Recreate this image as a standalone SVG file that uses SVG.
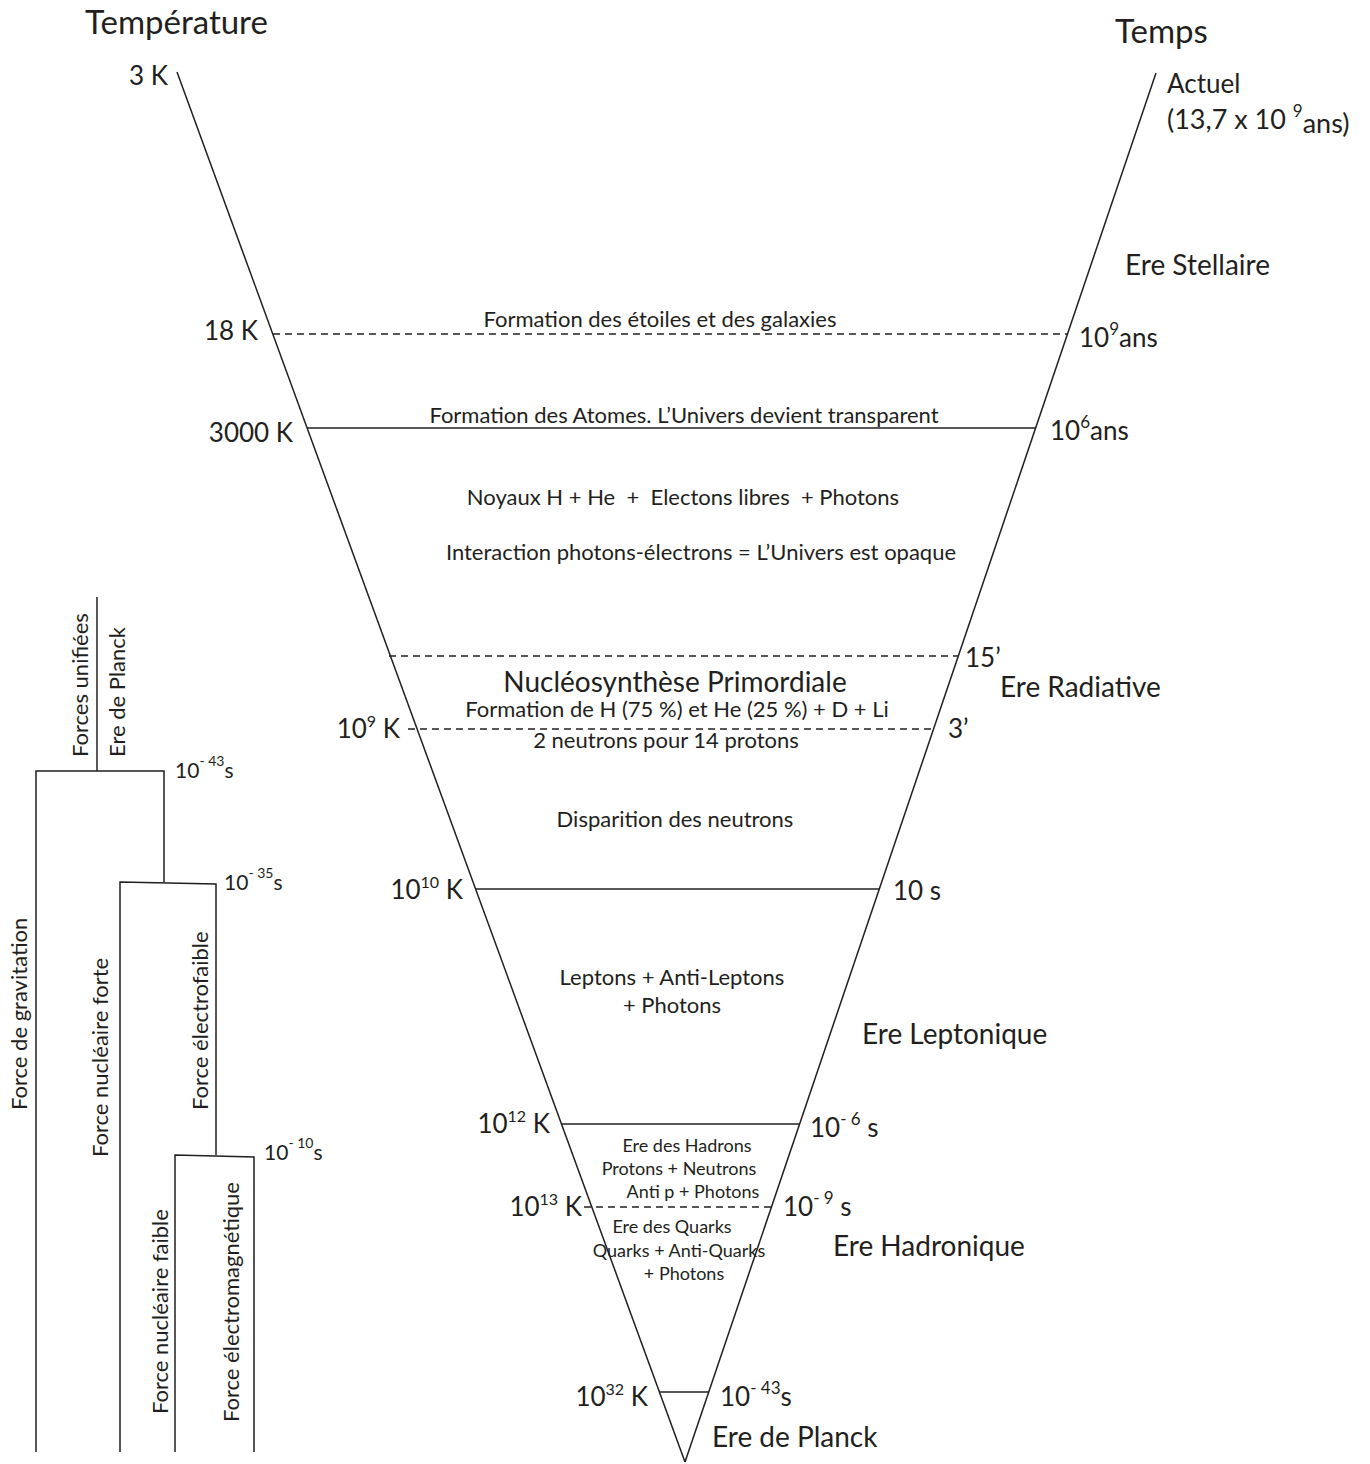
<svg xmlns="http://www.w3.org/2000/svg" width="1370" height="1464" viewBox="0 0 1370 1464">
<style>
text{font-family:Lato,"Open Sans","Liberation Sans",sans-serif;fill:#231f20}
.ln{stroke:#231f20;stroke-width:1.5;fill:none}
.ds{stroke:#231f20;stroke-width:1.5;fill:none;stroke-dasharray:7 5}
.t31{font-size:33px}
.t28{font-size:28px}
.t26{font-size:26px}
.t22{font-size:22px}
.t18{font-size:18px}
.tr{font-size:22px}
.tt{font-size:21px}
.e{text-anchor:end}
.m{text-anchor:middle}
</style>
<rect width="1370" height="1464" fill="#fff"/>

<g id="connectors">
  <line id="axe-temperature" class="ln" x1="177" y1="72" x2="685" y2="1462"/>
  <line id="axe-temps" class="ln" x1="1156" y1="73" x2="685" y2="1462"/>
  <line class="ds" x1="273" y1="334" x2="1067" y2="334"/>
  <line class="ln" x1="307" y1="428" x2="1036" y2="428"/>
  <line class="ds" x1="389" y1="656" x2="958" y2="656"/>
  <line class="ds" x1="408" y1="729" x2="934" y2="729"/>
  <line class="ln" x1="476" y1="889" x2="879" y2="889"/>
  <line class="ln" x1="562" y1="1124" x2="800" y2="1124"/>
  <line class="ds" x1="584" y1="1207" x2="776" y2="1207"/>
  <line class="ln" x1="659" y1="1392" x2="709" y2="1392"/>
  <!-- arbre des forces -->
  <polyline class="ln" points="97,597 97,771"/>
  <polyline class="ln" points="36,1452 36,771 164,771 164,882"/>
  <polyline class="ln" points="120,1452 120,882 216,884 216,1155"/>
  <polyline class="ln" points="175,1452 175,1155 254,1157 254,1452"/>
</g>

<g id="titres">
  <text class="t31" x="85" y="34">Température</text>
  <text class="t31" x="1115" y="43">Temps</text>
</g>

<g id="temperatures">
  <text class="t26 e" x="168" y="85">3 K</text>
  <text class="t26 e" x="258" y="340">18 K</text>
  <text class="t26 e" x="293" y="442">3000 K</text>
  <text class="t26 e" x="400" y="738">10<tspan font-size="16" dy="-11">9</tspan><tspan dy="11"> K</tspan></text>
  <text class="t26 e" x="463" y="899">10<tspan font-size="16" dy="-11">10</tspan><tspan dy="11"> K</tspan></text>
  <text class="t26 e" x="550" y="1133">10<tspan font-size="16" dy="-11">12</tspan><tspan dy="11"> K</tspan></text>
  <text class="t26 e" x="582" y="1216">10<tspan font-size="16" dy="-11">13</tspan><tspan dy="11"> K</tspan></text>
  <text class="t26 e" x="648" y="1406">10<tspan font-size="16" dy="-11">32</tspan><tspan dy="11"> K</tspan></text>
</g>

<g id="temps">
  <text class="t26" x="1167" y="93" font-size="27">Actuel</text>
  <text class="t26" x="1167" y="129" style="font-size:27px">(13,7 x 10 <tspan font-size="17" dy="-12">9</tspan><tspan dy="16">ans)</tspan></text>
  <text class="t26" x="1079" y="347">10<tspan font-size="17" dy="-12">9</tspan><tspan dy="12">ans</tspan></text>
  <text class="t26" x="1050" y="440">10<tspan font-size="17" dy="-12">6</tspan><tspan dy="12">ans</tspan></text>
  <text class="t26" x="965" y="667">15’</text>
  <text class="t26" x="948" y="738">3’</text>
  <text class="t26" x="893" y="900">10 s</text>
  <text class="t26" x="810" y="1137">10<tspan font-size="17" dy="-12">- 6</tspan><tspan dy="12">  s</tspan></text>
  <text class="t26" x="783" y="1216">10<tspan font-size="17" dy="-12">- 9</tspan><tspan dy="12">  s</tspan></text>
  <text class="t26" x="720" y="1406">10<tspan font-size="17" dy="-12">- 43</tspan><tspan dy="12">s</tspan></text>
</g>

<g id="eres">
  <text class="t28" x="1125" y="275">Ere Stellaire</text>
  <text class="t28" x="1000" y="697">Ere Radiative</text>
  <text class="t28" x="862" y="1044">Ere Leptonique</text>
  <text class="t28" x="833" y="1256">Ere Hadronique</text>
  <text class="t28" x="712" y="1447">Ere de Planck</text>
</g>

<g id="evenements">
  <text class="t22 m" x="660" y="327">Formation des étoiles et des galaxies</text>
  <text class="t22 m" x="684" y="423">Formation des Atomes. L’Univers devient transparent</text>
  <text class="t22 m" x="683" y="505" xml:space="preserve">Noyaux H + He  +  Electons libres  + Photons</text>
  <text class="t22 m" x="701" y="560">Interaction photons-électrons = L’Univers est opaque</text>
  <text class="t28 m" x="675" y="692">Nucléosynthèse Primordiale</text>
  <text class="t22 m" x="677" y="717">Formation de H (75 %) et He (25 %) + D + Li</text>
  <text class="t22 m" x="666" y="748">2 neutrons pour 14 protons</text>
  <text class="t22 m" x="675" y="827">Disparition des neutrons</text>
  <text class="t22 m" x="672" y="985">Leptons + Anti-Leptons</text>
  <text class="t22 m" x="672" y="1013">+ Photons</text>
  <text class="t18 m" x="687" y="1152">Ere des Hadrons</text>
  <text class="t18 m" x="679" y="1175">Protons + Neutrons</text>
  <text class="t18 m" x="693" y="1198">Anti p + Photons</text>
  <text class="t18 m" x="672" y="1233">Ere des Quarks</text>
  <text class="t18 m" x="679" y="1257">Quarks + Anti-Quarks</text>
  <text class="t18 m" x="684" y="1280">+ Photons</text>
</g>

<g id="forces">
  <text class="tr" transform="translate(88,757) rotate(-90)">Forces unifiées</text>
  <text class="tr" transform="translate(125,757) rotate(-90)">Ere de Planck</text>
  <text class="tr" transform="translate(27,1110) rotate(-90)">Force de gravitation</text>
  <text class="tr" transform="translate(108,1157) rotate(-90)">Force nucléaire forte</text>
  <text class="tr" transform="translate(208,1110) rotate(-90)">Force électrofaible</text>
  <text class="tr" transform="translate(168,1414) rotate(-90)">Force nucléaire faible</text>
  <text class="tr" transform="translate(239,1422) rotate(-90)">Force électromagnétique</text>
  <text class="tt" x="175" y="778">10<tspan font-size="14" dy="-12">- 43</tspan><tspan dy="12">s</tspan></text>
  <text class="tt" x="224" y="890">10<tspan font-size="14" dy="-12">- 35</tspan><tspan dy="12">s</tspan></text>
  <text class="tt" x="264" y="1160">10<tspan font-size="14" dy="-12">- 10</tspan><tspan dy="12">s</tspan></text>
</g>
</svg>
